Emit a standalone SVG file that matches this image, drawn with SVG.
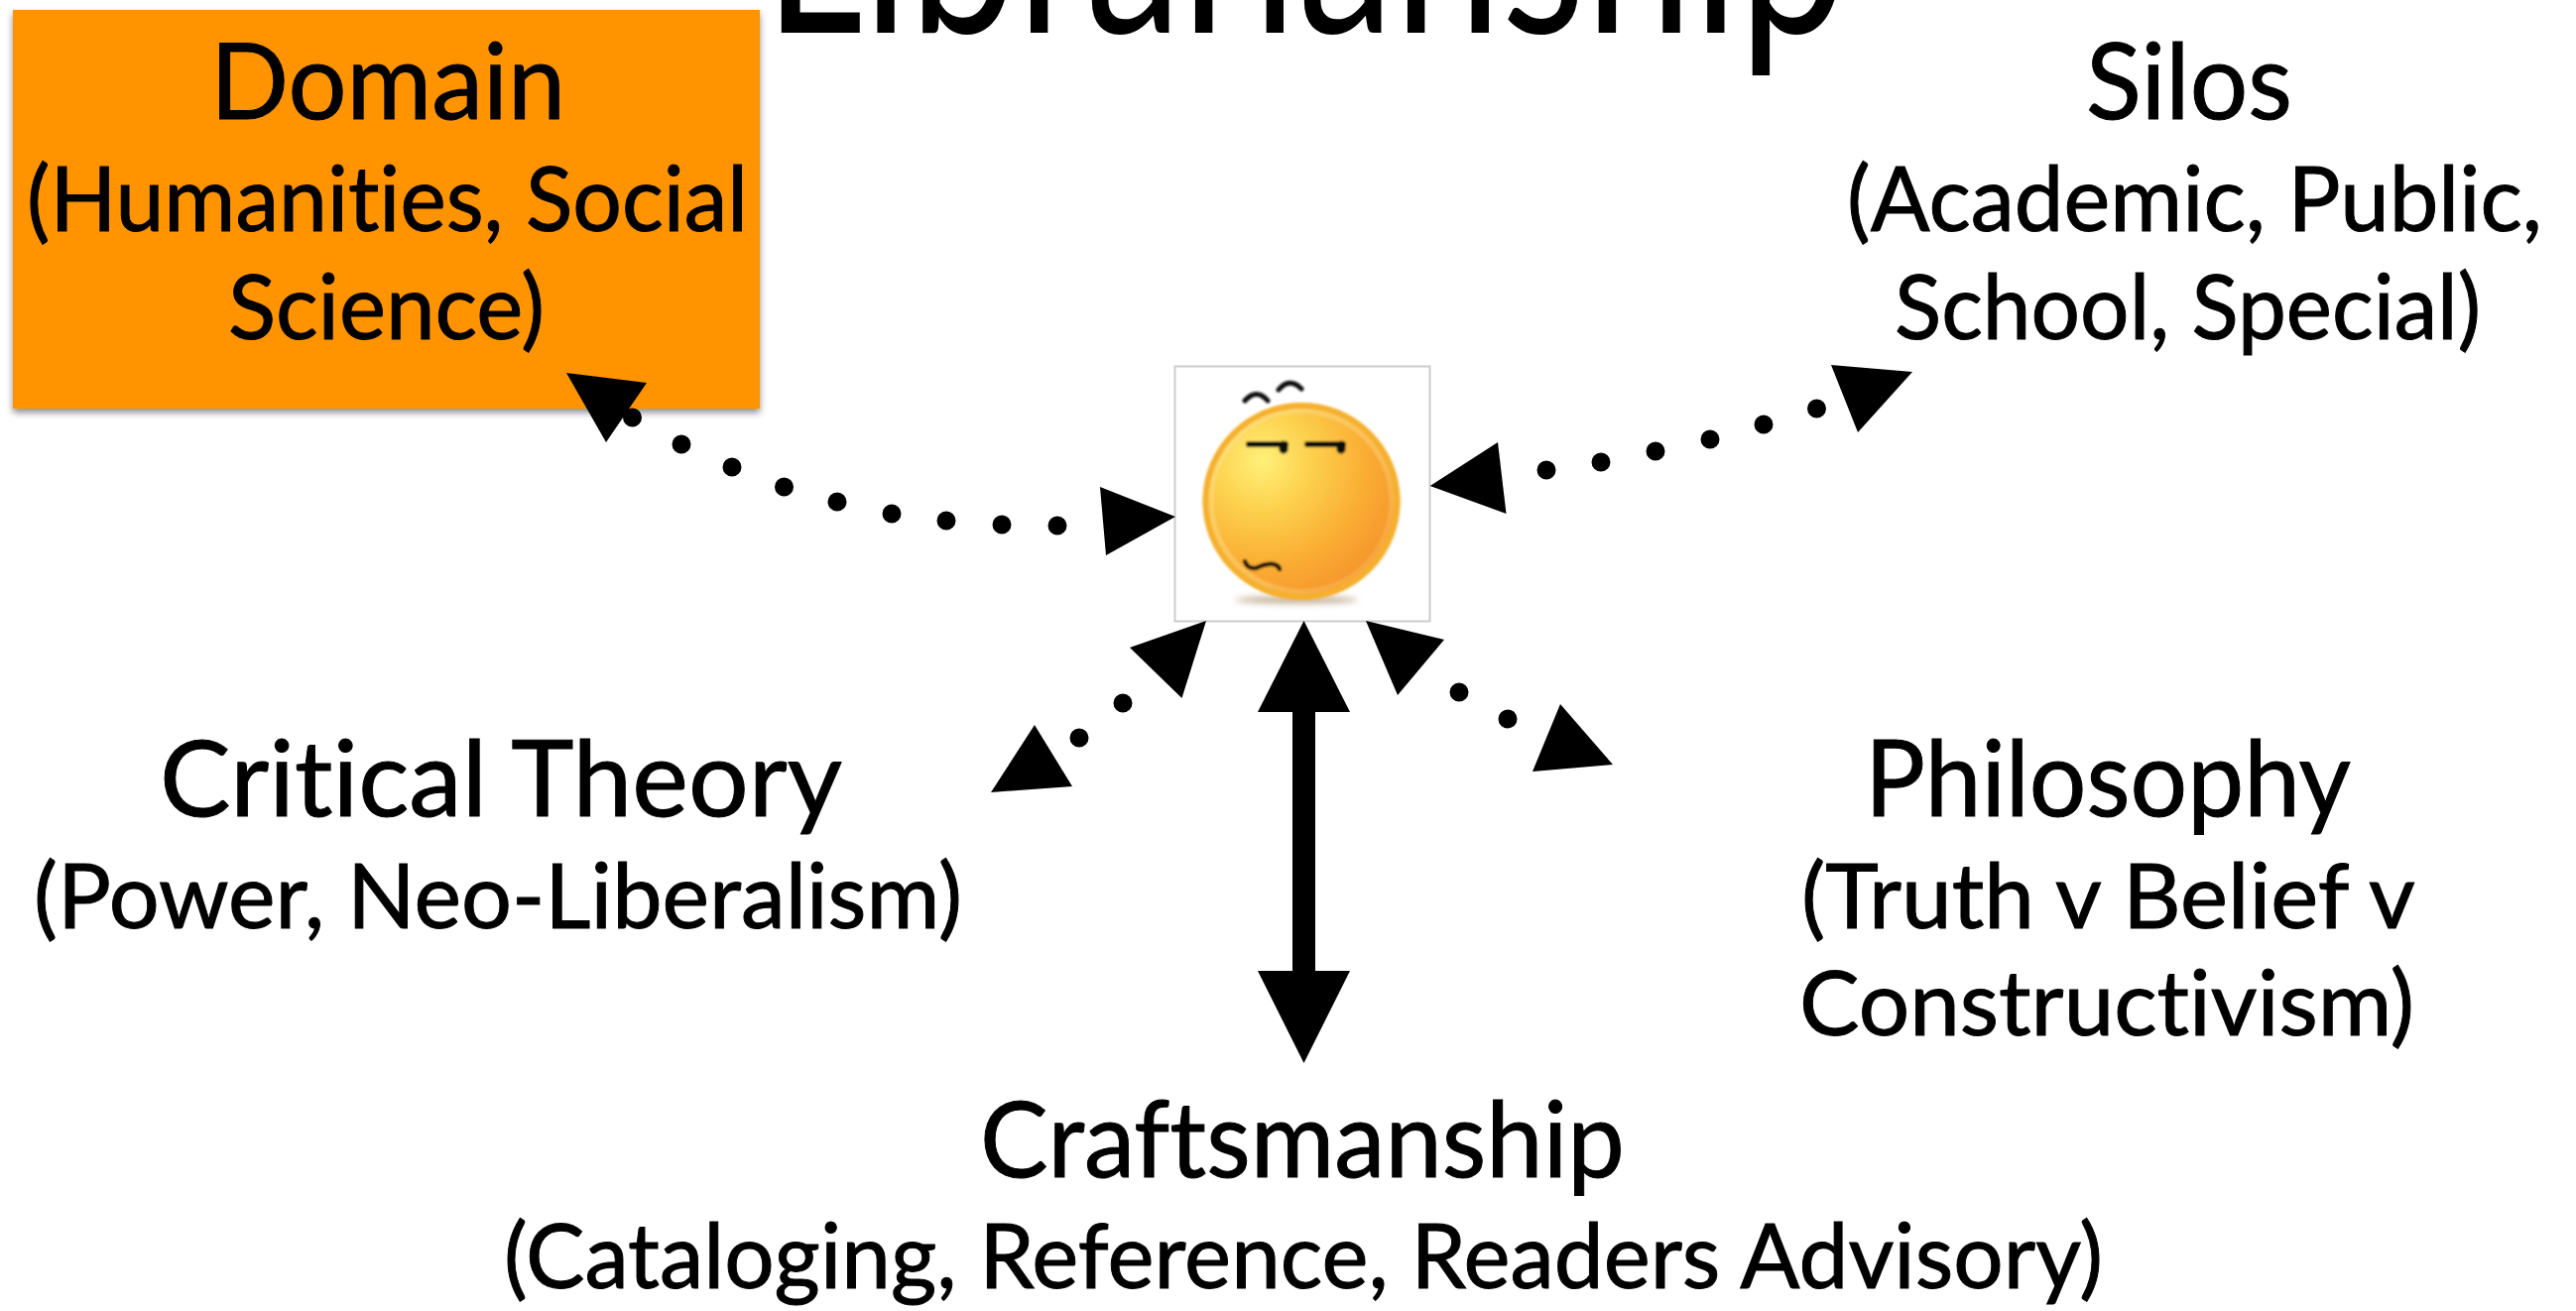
<svg xmlns="http://www.w3.org/2000/svg" width="2597" height="1322" viewBox="0 0 2597 1322">
<style>
text{font-family:"Lato","Liberation Sans",sans-serif;fill:#000;stroke:#000;stroke-width:1;font-variant-ligatures:none}
.h{font-size:106px}
.s{font-size:92px}
.t{font-size:250px;stroke-width:0}
.dots{fill:none;stroke:#000;stroke-width:19;stroke-linecap:round}
.head{fill:#000}
.ink{fill:none;stroke:#0c0c0c;stroke-linecap:round;stroke-linejoin:round}
</style>
<defs>
<filter id="shadow" x="-5%" y="-5%" width="110%" height="112%"><feDropShadow dx="0" dy="4" stdDeviation="3.5" flood-color="#000" flood-opacity="0.45"/></filter>
<filter id="soft" x="-10%" y="-10%" width="120%" height="120%"><feGaussianBlur stdDeviation="0.9"/></filter>
<filter id="softer" x="-30%" y="-300%" width="160%" height="700%"><feGaussianBlur stdDeviation="3"/></filter>
<radialGradient id="faceFill" gradientUnits="userSpaceOnUse" cx="1272" cy="465" r="160">
<stop offset="0" stop-color="#FFF07A"/>
<stop offset="0.3" stop-color="#FDD24E"/>
<stop offset="0.65" stop-color="#FAAE34"/>
<stop offset="1" stop-color="#F5902A"/>
</radialGradient>
<linearGradient id="faceRim" x1="0" y1="0" x2="1" y2="1">
<stop offset="0" stop-color="#FBE38E"/>
<stop offset="0.6" stop-color="#FBD074"/>
<stop offset="1" stop-color="#F9A63A"/>
</linearGradient>
</defs>
<rect width="2597" height="1322" fill="#fff"/>

<g id="title"><text class="t" x="770" y="33" textLength="1092" lengthAdjust="spacingAndGlyphs">Librarianship</text></g>

<g id="domain">
<rect x="13" y="10" width="753" height="402" fill="#FF9400" filter="url(#shadow)"/>
<text class="h" x="212" y="120" textLength="358" lengthAdjust="spacingAndGlyphs">Domain</text>
<text class="s" x="27" y="233" textLength="727" lengthAdjust="spacingAndGlyphs">(Humanities, Social</text>
<text class="s" x="230" y="342" textLength="319" lengthAdjust="spacingAndGlyphs">Science)</text>
</g>

<g id="silos">
<text class="h" x="2103" y="119.5" textLength="208" lengthAdjust="spacingAndGlyphs">Silos</text>
<text class="s" x="1862" y="233" textLength="701" lengthAdjust="spacingAndGlyphs">(Academic, Public,</text>
<text class="s" x="1910" y="342" textLength="591" lengthAdjust="spacingAndGlyphs">School, Special)</text>
</g>

<g id="critical-theory">
<text class="h" x="161" y="823" textLength="688" lengthAdjust="spacingAndGlyphs">Critical Theory</text>
<text class="s" x="34" y="936" textLength="936" lengthAdjust="spacingAndGlyphs">(Power, Neo-Liberalism)</text>
</g>

<g id="philosophy">
<text class="h" x="1880" y="823" textLength="490" lengthAdjust="spacingAndGlyphs">Philosophy</text>
<text class="s" x="1816" y="936" textLength="619" lengthAdjust="spacingAndGlyphs">(Truth v Belief v</text>
<text class="s" x="1814" y="1044" textLength="620" lengthAdjust="spacingAndGlyphs">Constructivism)</text>
</g>

<g id="craftsmanship">
<text class="h" x="988" y="1187" textLength="650" lengthAdjust="spacingAndGlyphs">Craftsmanship</text>
<text class="s" x="508" y="1299" textLength="1612" lengthAdjust="spacingAndGlyphs">(Cataloging, Reference, Readers Advisory)</text>
</g>

<g id="self">
<rect x="1184.5" y="369.5" width="257" height="257" fill="#fff" stroke="#CCCCCC" stroke-width="2"/>
<ellipse cx="1307" cy="605" rx="62" ry="3.5" fill="#A88A66" opacity="0.7" filter="url(#softer)"/>
<g filter="url(#soft)">
<circle cx="1312" cy="505.5" r="99.5" fill="url(#faceFill)"/>
<circle cx="1312" cy="505.5" r="96.5" fill="none" stroke="#F5B02E" stroke-width="6"/>
<circle cx="1312" cy="505.5" r="91" fill="none" stroke="url(#faceRim)" stroke-width="5" opacity="0.55"/>
<path class="ink" stroke-width="5" d="M1255 404Q1267 391 1278 404M1289 393Q1300 380 1312 392"/>
<path class="ink" stroke-width="6" d="M1259 448H1296M1318 448H1354"/>
<path class="ink" stroke-width="9" d="M1294 449V453M1352 449V453"/>
<path class="ink" stroke-width="4.5" d="M1255 566Q1258 574 1266 573Q1276 568 1284 569Q1289 570 1290 574"/>
</g>
</g>

<g id="connectors">
<path class="dots" d="M637.5 421h0M687 448h0M738 471h0M790.5 491h0M844 506h0M899 518h0M954 525h0M1010 529h0M1066 530h0"/>
<polygon class="head" points="571,376 652,386 611,446"/>
<polygon class="head" points="1185,521 1109,491 1115,560"/>
<path class="dots" d="M1559 474h0M1614 466h0M1669 455h0M1724 443h0M1778 428h0M1831.5 412h0"/>
<polygon class="head" points="1441.7,490 1510,446 1518.5,518"/>
<polygon class="head" points="1846,368 1928,375 1873,436"/>
<path class="dots" d="M1132 709h0M1088 744h0"/>
<polygon class="head" points="1216,626 1139,653 1191.5,704"/>
<polygon class="head" points="999,799 1043,731 1081,793"/>
<path class="dots" d="M1471 698h0M1520 725h0"/>
<polygon class="head" points="1377,626 1456,645 1409,701"/>
<polygon class="head" points="1626,771 1573,710 1545,778"/>
<line x1="1314.5" y1="710" x2="1314.5" y2="985" stroke="#000" stroke-width="23"/>
<polygon class="head" points="1314.5,626 1268,718 1361,718"/>
<polygon class="head" points="1314.5,1072 1268,979 1361,979"/>
</g>
</svg>
